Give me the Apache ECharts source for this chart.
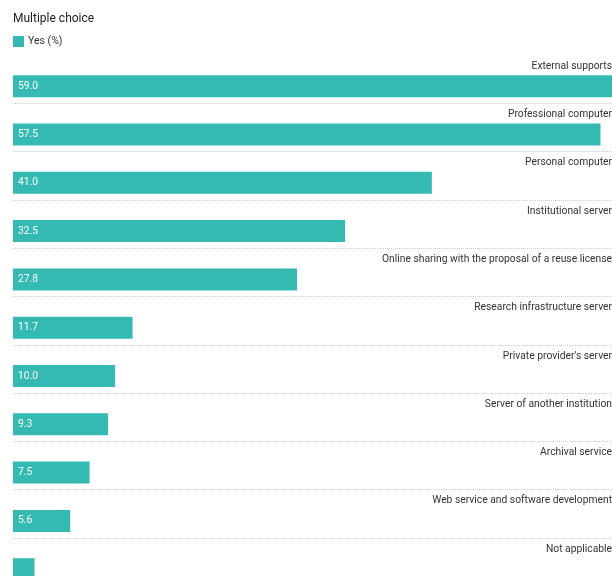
<!DOCTYPE html>
<html>
<head>
<meta charset="utf-8">
<script src="https://cdn.jsdelivr.net/npm/echarts@6/dist/echarts.min.js"></script>
<style>
html,body{margin:0;padding:0;background:#fff;overflow:hidden;width:612px;height:576px;}
#chart{width:640px;height:600px;}
</style>
</head>
<body>
<div id="chart"></div>
<script>
var categories = [
  "External supports",
  "Professional computer",
  "Personal computer",
  "Institutional server",
  "Online sharing with the proposal of a reuse license",
  "Research infrastructure server",
  "Private provider's server",
  "Server of another institution",
  "Archival service",
  "Web service and software development",
  "Not applicable"
];
var yesValues = [59.0, 57.5, 41.0, 32.5, 27.8, 11.7, 10.0, 9.3, 7.5, 5.6, 2.1];
var seriesName = "Yes (%)";
var subtitle = "Multiple choice";

var chart = echarts.init(document.getElementById('chart'), null, {renderer: 'canvas'});
var font = 'Roboto, "Noto Sans", sans-serif';
var option = {
  animation: false,
  backgroundColor: '#ffffff',
  title: {
    text: subtitle,
    left: 8,
    top: 8,
    textStyle: {fontFamily: font, fontSize: 12, fontWeight: 'normal', color: '#222'}
  },
  legend: {
    data: [seriesName],
    left: 8,
    top: 31,
    itemWidth: 11,
    itemHeight: 11,
    icon: 'rect',
    textStyle: {fontFamily: font, fontSize: 10.5, color: '#333', padding: [0, 0, 0, -1]}
  },
  grid: {left: 13, top: 55, width: 613, height: 531.3, containLabel: false},
  xAxis: {
    type: 'value', min: 0, max: 60, show: false
  },
  yAxis: {
    type: 'category',
    data: categories,
    inverse: true,
    position: 'right',
    axisLine: {show: false},
    axisTick: {show: false},
    axisLabel: {
      inside: true,
      margin: 14,
      fontFamily: font,
      fontSize: 10.3,
      color: '#333',
      verticalAlign: 'bottom',
      lineHeight: 26
    },
    splitLine: {
      show: true,
      showMinLine: false,
      lineStyle: {type: 'dotted', color: '#cfcfcf', width: 1}
    }
  },
  series: [
    {
      name: 'pad',
      type: 'bar',
      silent: true,
      data: yesValues.map(function(){ return 0; }),
      barWidth: 22,
      barGap: '-36%',
      itemStyle: {color: 'rgba(0,0,0,0)'},
      label: {show: false}
    },
    {
      name: seriesName,
      type: 'bar',
      data: yesValues.map(function(v, i){
        return i === yesValues.length - 1 ? {value: v, label: {show: false}} : v;
      }),
      barWidth: 22,
      barGap: '-36%',
      itemStyle: {color: '#35bab3'},
      label: {
        show: true,
        position: 'insideLeft',
        distance: 5,
        fontFamily: font,
        fontSize: 10.3,
        color: '#ffffff',
        formatter: function(p){ return p.value.toFixed(1); }
      }
    }
  ]
};
chart.setOption(option);
</script>
</body>
</html>
